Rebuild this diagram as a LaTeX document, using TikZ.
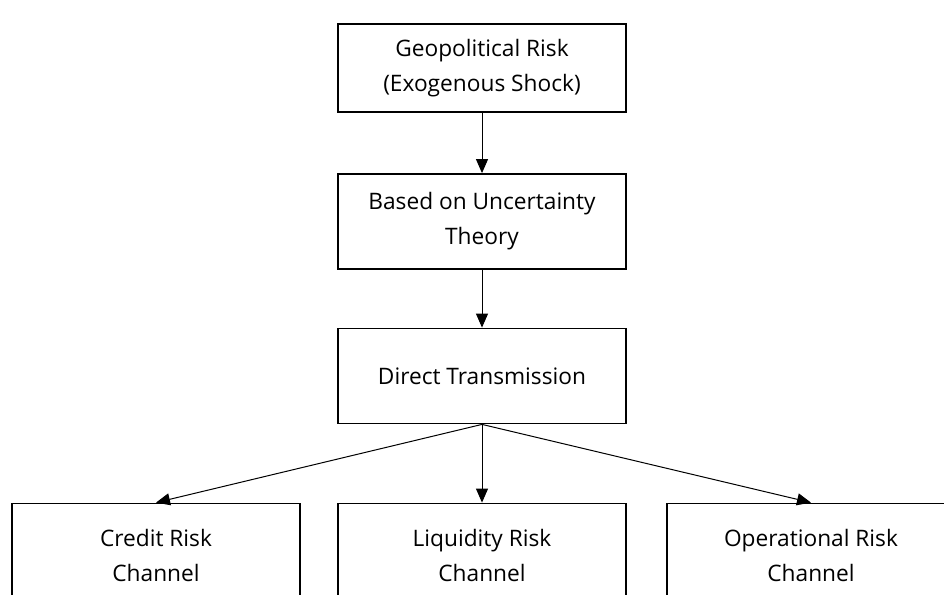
\documentclass[tikz,border=0pt]{standalone}
\usepackage{fontspec}
\setmainfont{Open Sans}
\usetikzlibrary{arrows.meta}
\begin{document}
\begin{tikzpicture}[x=1pt,y=-1pt,
    box/.style={draw=black,line width=1.8pt,minimum width=288pt,minimum height=95pt,
        inner sep=0pt,align=center,font=\fontsize{22.7}{35}\selectfont},
    link/.style={draw=black,line width=1pt,-{Triangle[length=14pt,width=12pt]}}]
    \useasboundingbox (0,0) rectangle (944,594);
    \clip (0,0) rectangle (944,594);
    \node [box,minimum height=88pt] (geo) at (482,68) {Geopolitical Risk\\(Exogenous Shock)};
    \node [box] (unc) at (482,221.5) {Based on Uncertainty\\Theory};
    \node [box] (direct) at (482,376) {Direct Transmission};
    \node [box,minimum height=103pt] (credit) at (156,555) {Credit Risk\\Channel};
    \node [box,minimum height=103pt] (liquid) at (482,555) {Liquidity Risk\\Channel};
    \node [box,minimum height=103pt] (oper) at (811,555) {Operational Risk\\Channel};
    \draw [link] (geo.south) -- (unc.north);
    \draw [link] (unc.south) -- (direct.north);
    \draw [link] (direct.south) -- (credit.north);
    \draw [link] (direct.south) -- (liquid.north);
    \draw [link] (direct.south) -- (oper.north);
\end{tikzpicture}
\end{document}
